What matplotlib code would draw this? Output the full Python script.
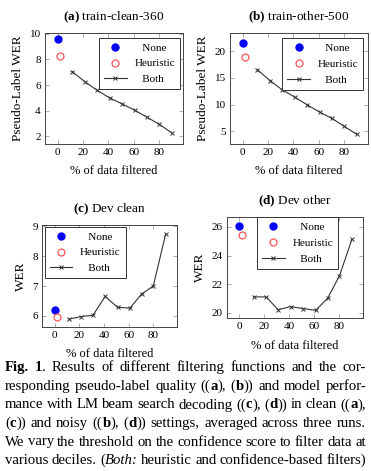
import matplotlib
matplotlib.use("Agg")
import matplotlib.pyplot as plt

plt.rcParams['font.family'] = ['Liberation Serif', 'DejaVu Serif']
plt.rcParams['mathtext.fontset'] = 'custom'
plt.rcParams['mathtext.rm'] = 'Liberation Serif'
plt.rcParams['mathtext.bf'] = 'Liberation Serif:bold'

# データ
pct_none = 0
pct_heur = 2
pct_both = [11.5, 21.5, 31, 41, 51, 61, 70.5, 80, 90]

a_none, a_heur = 9.58, 8.26
a_both = [7.04, 6.26, 5.6, 5.0, 4.53, 4.03, 3.5, 2.96, 2.29]

b_none, b_heur = 21.56, 18.94
b_both = [16.56, 14.5, 12.8, 11.4, 9.94, 8.56, 7.4, 5.94, 4.44]

c_none, c_heur = 6.2, 5.97
c_both = [5.89, 5.98, 6.02, 6.65, 6.29, 6.26, 6.73, 7.0, 8.73]

d_none, d_heur = 26.1, 25.44
d_both = [21.1, 21.1, 20.2, 20.42, 20.28, 20.16, 21.0, 22.58, 25.16]

titles = ['a', 'b', 'c', 'd']
names = ['train-clean-360', 'train-other-500', 'Dev clean', 'Dev other']
ylabels = ['Pseudo-Label WER', 'Pseudo-Label WER', 'WER', 'WER']
xticks = [0, 20, 40, 60, 80]
yticks = [[2, 4, 6, 8, 10], [5, 10, 15, 20], [6, 7, 8, 9], [20, 22, 24, 26]]

caption = [
    "*Fig. 1*. Results of different filtering functions and the cor-",
    "responding pseudo-label quality ((*a*), (*b*)) and model perfor-",
    "mance with LM beam search decoding ((*c*), (*d*)) in clean ((*a*),",
    "(*c*)) and noisy ((*b*), (*d*)) settings, averaged across three runs.",
    "We vary the threshold on the confidence score to filter data at",
    "various deciles. (_Both:_ heuristic and confidence-based filters)",
]

W, H = 371, 471
fig = plt.figure(figsize=(W / 100, H / 100), dpi=100)

# 各パネルの位置 (ピクセル: left, top, right, bottom)
boxes = [(45, 33, 183, 143.5), (230, 33, 368, 143.5),
         (42.3, 225, 176.7, 326.7), (226.7, 216.7, 363.3, 318.3)]
ylims = [(1.45, 10.05), (2.7, 23.4), (5.64, 9.04), (19.6, 26.72)]
leg_loc = ['upper right', 'upper right', 'upper left', 'upper left']
leg_anchor = [(0.978, 0.957), (0.964, 0.952), (0.02, 0.983), (0.224, 0.994)]

series = [(a_none, a_heur, a_both), (b_none, b_heur, b_both),
          (c_none, c_heur, c_both), (d_none, d_heur, d_both)]

for i, (l, t, r, b) in enumerate(boxes):
    ax = fig.add_axes([l / W, 1 - b / H, (r - l) / W, (b - t) / H])
    none_v, heur_v, both_v = series[i]
    ax.plot([pct_none], [none_v], 'o', color='#0000ff', ms=5, label='   None')
    ax.plot([pct_heur], [heur_v], 'o', mfc='none', mec='#ff5555', mew=0.9,
            ms=5, label='Heuristic')
    ax.plot(pct_both, both_v, '-x', color='#333333', lw=0.8, ms=3.5,
            mew=0.7, label='   Both')
    ax.set_xlim(-10, 99)
    ax.set_ylim(*ylims[i])
    ax.set_xticks(xticks)
    ax.set_yticks(yticks[i])
    ax.tick_params(direction='in', top=True, right=True, labelsize=8,
                   length=3, width=0.5, color='#888888', pad=3)
    for s in ax.spines.values():
        s.set_linewidth(0.7)
        s.set_color('#444444')
    ax.set_title(r'$\mathbf{(%s)}$ %s' % (titles[i], names[i]), fontsize=9.5,
                 pad=9)
    ax.set_xlabel('% of data filtered', fontsize=9, labelpad=6)
    ax.set_ylabel(ylabels[i], fontsize=9.5, labelpad=4)
    leg = ax.legend(loc=leg_loc[i], bbox_to_anchor=leg_anchor[i],
                    fontsize=8, fancybox=False, edgecolor='#333333',
                    framealpha=1, handlelength=2.0, borderpad=0.45,
                    labelspacing=0.55, handletextpad=0.7, borderaxespad=0)
    leg.get_frame().set_linewidth(0.7)

# キャプション (両端揃え)
renderer = fig.canvas.get_renderer()
cap_size = 10.6
x_left, x_right = 5, 366
baselines = [371, 390, 408.5, 427, 445.5, 464]


def styled_words(line):
    bold = italic = False
    words, cur = [], []
    for ch in line:
        if ch == '*':
            bold = not bold
            continue
        if ch == '_':
            italic = not italic
            continue
        if ch == ' ':
            if cur:
                words.append(cur)
            cur = []
            continue
        st = ('b' if bold else '') + ('i' if italic else '')
        if cur and cur[-1][1] == st:
            cur[-1][0] += ch
        else:
            cur.append([ch, st])
    if cur:
        words.append(cur)
    return words


for line, yb in zip(caption, baselines):
    words = styled_words(line)
    placed = []
    total = 0
    for w in words:
        segs = []
        ww = 0
        for txt, st in w:
            tx = fig.text(0, 1 - yb / H, txt, fontsize=cap_size, va='baseline',
                          ha='left',
                          fontweight='bold' if 'b' in st else 'normal',
                          fontstyle='italic' if 'i' in st else 'normal')
            wpx = tx.get_window_extent(renderer).width
            segs.append((tx, wpx))
            ww += wpx
        placed.append(segs)
        total += ww
    gap = (x_right - x_left - total) / (len(words) - 1)
    x = x_left
    for segs in placed:
        for tx, wpx in segs:
            tx.set_x(x / W)
            x += wpx
        x += gap

fig.savefig('out.png', dpi=100)
